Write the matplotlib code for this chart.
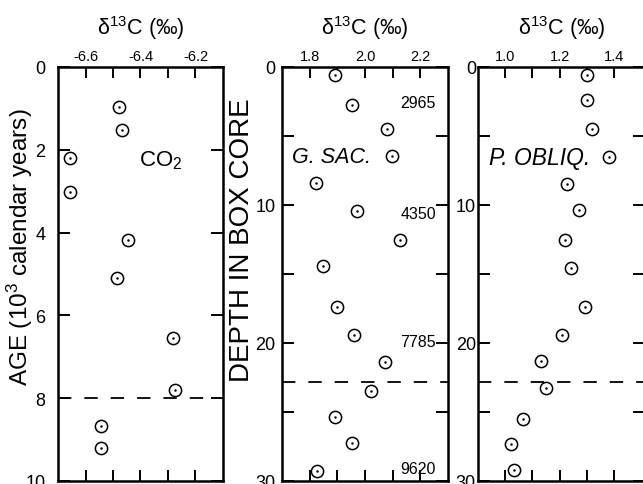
import matplotlib
matplotlib.use("Agg")
import matplotlib.pyplot as plt

plt.rcParams['font.family'] = ['Liberation Sans', 'DejaVu Sans']
plt.rcParams['mathtext.fontset'] = 'custom'
plt.rcParams['mathtext.rm'] = 'Liberation Sans'
plt.rcParams['mathtext.it'] = 'Liberation Sans:italic'
plt.rcParams['mathtext.bf'] = 'Liberation Sans:bold'

# ---- data ----
co2_d13c = [-6.479, -6.469, -6.655, -6.655, -6.445, -6.485, -6.281, -6.275, -6.542, -6.542]
co2_age = [0.96, 1.53, 2.21, 3.01, 4.18, 5.10, 6.55, 7.81, 8.67, 9.20]

gsac_d13c = [1.890, 1.954, 2.080, 2.096, 1.822, 1.970, 2.127, 1.849, 1.899, 1.960,
             2.074, 2.022, 1.890, 1.954, 1.827]
gsac_depth = [0.60, 2.72, 4.52, 6.45, 8.42, 10.42, 12.51, 14.43, 17.39, 19.44,
              21.41, 23.45, 25.33, 27.26, 29.30]

pobl_d13c = [1.301, 1.301, 1.317, 1.382, 1.228, 1.271, 1.218, 1.243, 1.293, 1.207,
             1.130, 1.150, 1.065, 1.021, 1.033]
pobl_depth = [0.60, 2.36, 4.52, 6.50, 8.49, 10.34, 12.51, 14.55, 17.39, 19.41,
              21.29, 23.26, 25.50, 27.30, 29.18]

age_labels = ['2965', '4350', '7785', '9620']
age_label_depth = [2.6, 10.6, 19.9, 29.1]

co2_dash = 8.0
core_dash = 22.8

co2_xticks = [-6.6, -6.5, -6.4, -6.3, -6.2]
co2_xticklabels = ['-6.6', '', '-6.4', '', '-6.2']
gsac_xticks = [1.8, 1.9, 2.0, 2.1, 2.2]
gsac_xticklabels = ['1.8', '', '2.0', '', '2.2']
pobl_xticks = [1.0, 1.1, 1.2, 1.3, 1.4]
pobl_xticklabels = ['1.0', '', '1.2', '', '1.4']
age_yticks = [0, 2, 4, 6, 8, 10]
age_yticklabels = ['0', '2', '4', '6', '8', '10']
depth_yticks = [0, 5, 10, 15, 20, 25, 30]
depth_yticklabels = ['0', '', '10', '', '20', '', '30']

W, H = 643, 485
fig = plt.figure(figsize=(W / 100, H / 100), dpi=100)


def px_axes(x0, x1, y0, y1):
    return fig.add_axes([x0 / W, (H - y1) / H, (x1 - x0) / W, (y1 - y0) / H])


ax1 = px_axes(58, 223, 68, 482)
ax2 = px_axes(282, 448, 68, 482)
ax3 = px_axes(478, 645, 68, 482)

xlabel = 'δ$^{13}$C (‰)'


def style(ax, xlim, ylim, xt, xtl, yt, ytl, ypad):
    ax.set_xlim(*xlim)
    ax.set_ylim(*ylim)
    ax.set_xticks(xt)
    ax.set_xticklabels(xtl)
    ax.set_yticks(yt)
    ax.set_yticklabels(ytl)
    ax.xaxis.set_label_position('top')
    ax.tick_params(axis='x', which='both', direction='in', top=True, bottom=True,
                   labeltop=True, labelbottom=False, length=8, width=1.4,
                   labelsize=10.5, pad=3)
    ax.tick_params(axis='y', which='both', direction='in', left=True, right=True,
                   length=8.5, width=1.4, labelsize=13, pad=ypad)
    for s in ax.spines.values():
        s.set_linewidth(1.8)
    ax.set_xlabel(xlabel, fontsize=15.5, labelpad=11)


def points(ax, x, y):
    ax.plot(x, y, linestyle='none', marker='o', markersize=8.8, markerfacecolor='white',
            markeredgecolor='black', markeredgewidth=1.1, clip_on=False, zorder=3)
    ax.plot(x, y, linestyle='none', marker='o', markersize=1.8, markerfacecolor='black',
            markeredgecolor='black', markeredgewidth=0, clip_on=False, zorder=4)


style(ax1, (-6.7, -6.1), (10, 0), co2_xticks, co2_xticklabels, age_yticks, age_yticklabels, 9)
style(ax2, (1.7, 2.3), (30, 0), gsac_xticks, gsac_xticklabels, depth_yticks, depth_yticklabels, 4.5)
style(ax3, (0.9, 1.513), (30, 0), pobl_xticks, pobl_xticklabels, depth_yticks, depth_yticklabels, 1.5)

dash = dict(color='black', lw=1.3, linestyle=(0, (7.4, 7.2)), zorder=2)
ax1.axhline(co2_dash, **dash)
ax2.axhline(core_dash, **dash)
ax3.axhline(core_dash, **dash)

points(ax1, co2_d13c, co2_age)
points(ax2, gsac_d13c, gsac_depth)
points(ax3, pobl_d13c, pobl_depth)

ax1.set_ylabel('AGE (10$^3$ calendar years)', fontsize=17.5)
ax1.yaxis.set_label_coords(-0.142, 0.566)
ax2.set_ylabel('DEPTH IN BOX CORE', fontsize=20)
ax2.yaxis.set_label_coords(-0.16, 0.585)

ax1.text(-6.325, 2.25, 'CO$_2$', fontsize=16, ha='center', va='center')
ax2.text(1.735, 6.45, 'G. SAC.', fontsize=15.5, style='italic', ha='left', va='center')
ax3.text(0.94, 6.55, 'P. OBLIQ.', fontsize=16.5, style='italic', ha='left', va='center')

for lab, d in zip(age_labels, age_label_depth):
    ax2.text(2.256, d, lab, fontsize=11.5, ha='right', va='center')

fig.savefig('out.png', dpi=100)
